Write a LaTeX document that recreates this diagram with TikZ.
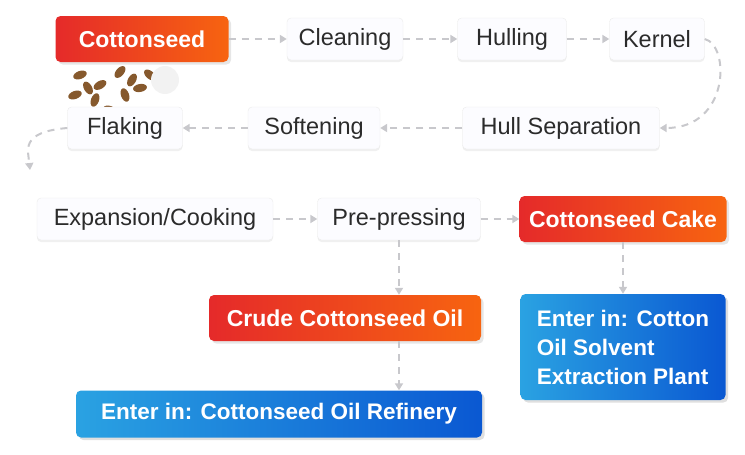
\documentclass[tikz,border=0pt]{standalone}
\usepackage{fontspec}
\setmainfont{Liberation Sans}
\usetikzlibrary{arrows.meta,shadows}
\definecolor{txt}{HTML}{2B2B2B}
\definecolor{ln}{HTML}{C8C8CC}
\definecolor{rl}{HTML}{E52A2A}
\definecolor{rr}{HTML}{F76410}
\definecolor{bl}{HTML}{2AA2E2}
\definecolor{br}{HTML}{0A58D2}
\begin{document}
\begin{tikzpicture}[x=1pt,y=-1pt,
 box/.style={draw=white!92!black,fill=white!97!blue!40!white,rounded corners=4pt,minimum height=42pt,text=txt,font=\fontsize{23.5}{28}\selectfont,drop shadow={opacity=0.12,shadow xshift=0pt,shadow yshift=-2pt}},
 red/.style={rounded corners=5pt,minimum height=46pt,text=white,font=\bfseries\fontsize{23}{28}\selectfont,left color=rl,right color=rr,drop shadow={opacity=0.2}},
 blue/.style={rounded corners=5pt,text=white,font=\bfseries\fontsize{22.5}{29}\selectfont,left color=bl,right color=br,drop shadow={opacity=0.25}},
 con/.style={draw=ln,line width=2pt,dash pattern=on 7pt off 6pt,-{Triangle[length=7pt,width=8pt]}}]
\useasboundingbox (0,0) rectangle (745,455);
% seed picture
\foreach \x/\y/\r in {80/75/20,100/85/30,120/72/50,140/88/10,95/100/70,125/95/110,150/75/140,110/110/160,75/95/200,132/80/60,88/88/120}
 \fill[brown!70!black,rotate around={\r:(\x,\y)}] (\x,\y) ellipse (7pt and 4pt);
\fill[white!90!gray] (165,80) circle (14pt);
\node[red,minimum width=173pt] (cs) at (142,39) {Cottonseed};
\node[box,minimum width=116pt] (cl) at (345,39) {Cleaning};
\node[box,minimum width=109pt] (hu) at (512,39) {Hulling};
\node[box,minimum width=95pt] (ke) at (657,39) {Kernel};
\node[box,minimum width=197pt] (hs) at (561,128) {Hull Separation};
\node[box,minimum width=132pt] (so) at (314,128) {Softening};
\node[box,minimum width=115pt] (fl) at (125,128) {Flaking};
\node[box,minimum width=236pt] (ex) at (155,219) {Expansion/Cooking};
\node[box,minimum width=163pt] (pp) at (399,219) {Pre-pressing};
\node[red,minimum width=207pt] (cc) at (623,219) {Cottonseed Cake};
\node[red,minimum width=272pt] (co) at (345,318) {Crude Cottonseed Oil};
\node[blue,minimum width=205pt,minimum height=106pt,align=left] (sp) at (623,347) {Enter in: Cotton\\Oil Solvent\\Extraction Plant};
\node[blue,minimum width=406pt,minimum height=47pt] (rf) at (279,414) {Enter in: Cottonseed Oil Refinery};
\draw[con] (cs) -- (cl);
\draw[con] (cl) -- (hu);
\draw[con] (hu) -- (ke);
\draw[con] (ke.east) .. controls (730,45) and (730,128) .. (hs.east);
\draw[con] (hs) -- (so);
\draw[con] (so) -- (fl);
\draw[con] (fl.west) .. controls (20,132) and (28,150) .. (30,170);
\draw[con] (ex) -- (pp);
\draw[con] (pp) -- (cc);
\draw[con] (pp.south) -- (pp.south |- co.north);
\draw[con] (cc) -- (sp);
\draw[con] (pp.south |- co.south) -- (pp.south |- rf.north);
\end{tikzpicture}
\end{document}
